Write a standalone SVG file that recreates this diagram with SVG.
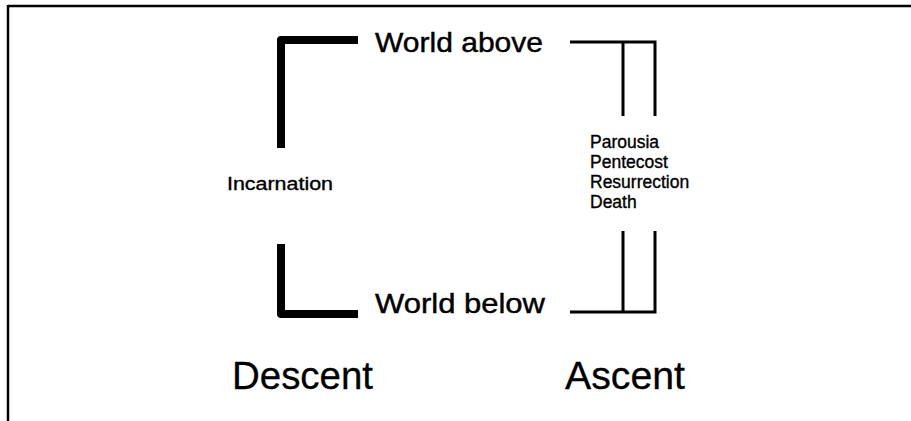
<svg xmlns="http://www.w3.org/2000/svg" width="911" height="421" viewBox="0 0 911 421">
<style>
text{font-family:"Liberation Sans",Arial,sans-serif;fill:#000;stroke:#000;stroke-width:0.45}
.big{font-size:28.5px}
.lab{font-size:17.5px;stroke-width:0.35}
.hd{font-size:38.5px;stroke-width:0.3}
.thick{fill:none;stroke:#000;stroke-width:8;stroke-linejoin:round}
.thin{fill:none;stroke:#000;stroke-width:3;stroke-linejoin:miter}
</style>
<rect width="911" height="421" fill="#fff"/>
<g id="frame">
<path d="M8,6 H911 M8,5 V421" fill="none" stroke="#000" stroke-width="2.5"/>
</g>
<g id="connectors">
<path class="thick" d="M358,40 H281 V148"/>
<path class="thick" d="M281,244 V314 H358"/>
<path class="thin" d="M570,42 H655 V116 M623,42 V116"/>
<path class="thin" d="M623,231 V312 M655,231 V312 H570"/>
</g>
<g id="world-above"><text class="big" x="375" y="52" textLength="168" lengthAdjust="spacingAndGlyphs">World above</text></g>
<g id="world-below"><text class="big" x="375" y="313" textLength="170" lengthAdjust="spacingAndGlyphs">World below</text></g>
<g id="incarnation"><text class="lab" x="227" y="190" textLength="106" lengthAdjust="spacingAndGlyphs">Incarnation</text></g>
<g id="events">
<text class="lab" x="590" y="148">Parousia</text>
<text class="lab" x="590" y="168">Pentecost</text>
<text class="lab" x="590" y="188">Resurrection</text>
<text class="lab" x="590" y="208">Death</text>
</g>
<g id="descent"><text class="hd" x="232" y="389" textLength="141" lengthAdjust="spacingAndGlyphs">Descent</text></g>
<g id="ascent"><text class="hd" x="565" y="389" textLength="120" lengthAdjust="spacingAndGlyphs">Ascent</text></g>
</svg>
